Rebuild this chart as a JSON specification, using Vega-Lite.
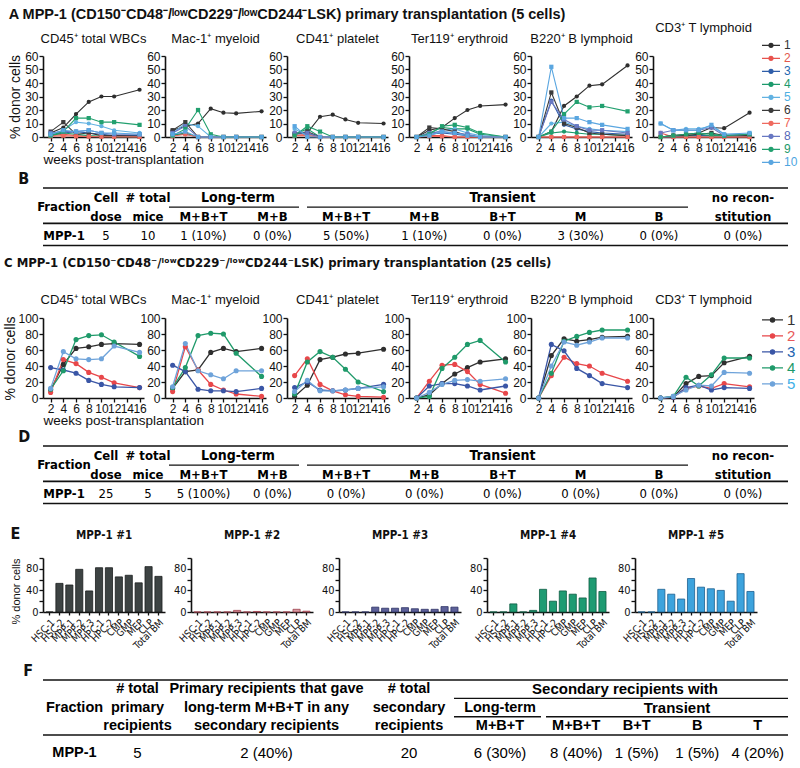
{
"$schema":"https://vega.github.io/schema/vega-lite/v6.json",
"background":"white",
"padding":{"left":3,"top":6,"right":2,"bottom":0},
"spacing":2,
"resolve":{"scale":{"color":"independent"}},
"config":{
 "view":{"stroke":null},
 "font":"Liberation Sans, Arial, Helvetica, sans-serif",
 "axis":{"domainColor":"#111","domainWidth":1.6,"tickColor":"#111","tickWidth":1.3,"tickSize":4,"labelColor":"#111","labelFont":"Liberation Sans, Arial, sans-serif","labelFontSize":12,"titleFont":"Liberation Sans, Arial, sans-serif","titleFontWeight":"normal","titleFontSize":14,"titleColor":"#111","grid":false,"labelPadding":1},
 "title":{"font":"Liberation Sans, Arial, sans-serif","fontWeight":"normal","fontSize":13,"color":"#111"},
 "legend":{"labelFont":"Liberation Sans, Arial, sans-serif"},
 "style":{
  "tb":{"font":"Liberation Sans Narrow, Arial Narrow, DejaVu Sans Condensed, sans-serif","fontWeight":"bold","fontSize":13,"baseline":"middle","fill":"#111"},
  "tg":{"font":"Liberation Sans Narrow, Arial Narrow, DejaVu Sans Condensed, sans-serif","fontWeight":"bold","fontSize":14,"baseline":"middle","fill":"#111"},
  "tv":{"font":"Liberation Sans Narrow, Arial Narrow, DejaVu Sans Condensed, sans-serif","fontSize":13,"baseline":"middle","fill":"#111"},
  "fb":{"font":"Liberation Sans, Arial, sans-serif","fontWeight":"bold","fontSize":14.5,"baseline":"middle","fill":"#111"},
  "fv":{"font":"Liberation Sans, Arial, sans-serif","fontSize":15,"baseline":"middle","fill":"#111"}
 }
},
"datasets":{
"lineA":[
{"p":"wbc","m":"1","w":2,"v":3},{"p":"wbc","m":"1","w":4,"v":7},{"p":"wbc","m":"1","w":6,"v":17},{"p":"wbc","m":"1","w":8,"v":26},{"p":"wbc","m":"1","w":10,"v":30},{"p":"wbc","m":"1","w":12,"v":30},{"p":"wbc","m":"1","w":16,"v":35},
{"p":"wbc","m":"2","w":2,"v":1},{"p":"wbc","m":"2","w":4,"v":2},{"p":"wbc","m":"2","w":6,"v":1},{"p":"wbc","m":"2","w":8,"v":0.5},{"p":"wbc","m":"2","w":10,"v":0.3},{"p":"wbc","m":"2","w":12,"v":0.2},{"p":"wbc","m":"2","w":16,"v":0.2},
{"p":"wbc","m":"3","w":2,"v":2},{"p":"wbc","m":"3","w":4,"v":3},{"p":"wbc","m":"3","w":6,"v":4},{"p":"wbc","m":"3","w":8,"v":3},{"p":"wbc","m":"3","w":10,"v":2},{"p":"wbc","m":"3","w":12,"v":1},{"p":"wbc","m":"3","w":16,"v":1},
{"p":"wbc","m":"4","w":2,"v":1},{"p":"wbc","m":"4","w":4,"v":3},{"p":"wbc","m":"4","w":6,"v":2},{"p":"wbc","m":"4","w":8,"v":1},{"p":"wbc","m":"4","w":10,"v":0.5},{"p":"wbc","m":"4","w":12,"v":0.3},{"p":"wbc","m":"4","w":16,"v":0.2},
{"p":"wbc","m":"5","w":2,"v":2},{"p":"wbc","m":"5","w":4,"v":5},{"p":"wbc","m":"5","w":6,"v":11},{"p":"wbc","m":"5","w":8,"v":10},{"p":"wbc","m":"5","w":10,"v":8},{"p":"wbc","m":"5","w":12,"v":5},{"p":"wbc","m":"5","w":16,"v":3},
{"p":"wbc","m":"6","w":2,"v":4},{"p":"wbc","m":"6","w":4,"v":11},{"p":"wbc","m":"6","w":6,"v":2},{"p":"wbc","m":"6","w":8,"v":3},{"p":"wbc","m":"6","w":10,"v":1},{"p":"wbc","m":"6","w":12,"v":1},{"p":"wbc","m":"6","w":16,"v":0.5},
{"p":"wbc","m":"7","w":2,"v":0.5},{"p":"wbc","m":"7","w":4,"v":1},{"p":"wbc","m":"7","w":6,"v":0.5},{"p":"wbc","m":"7","w":8,"v":0.3},{"p":"wbc","m":"7","w":10,"v":0.2},{"p":"wbc","m":"7","w":12,"v":0.2},{"p":"wbc","m":"7","w":16,"v":0.1},
{"p":"wbc","m":"8","w":2,"v":3},{"p":"wbc","m":"8","w":4,"v":4},{"p":"wbc","m":"8","w":6,"v":4},{"p":"wbc","m":"8","w":8,"v":5},{"p":"wbc","m":"8","w":10,"v":3},{"p":"wbc","m":"8","w":12,"v":2},{"p":"wbc","m":"8","w":16,"v":2},
{"p":"wbc","m":"9","w":2,"v":1},{"p":"wbc","m":"9","w":4,"v":4},{"p":"wbc","m":"9","w":6,"v":14},{"p":"wbc","m":"9","w":8,"v":14},{"p":"wbc","m":"9","w":10,"v":11},{"p":"wbc","m":"9","w":12,"v":11},{"p":"wbc","m":"9","w":16,"v":9},
{"p":"wbc","m":"10","w":2,"v":2},{"p":"wbc","m":"10","w":4,"v":5},{"p":"wbc","m":"10","w":6,"v":4},{"p":"wbc","m":"10","w":8,"v":5},{"p":"wbc","m":"10","w":10,"v":3},{"p":"wbc","m":"10","w":12,"v":3},{"p":"wbc","m":"10","w":16,"v":2},
{"p":"mac","m":"1","w":2,"v":5},{"p":"mac","m":"1","w":4,"v":8},{"p":"mac","m":"1","w":6,"v":10},{"p":"mac","m":"1","w":8,"v":21},{"p":"mac","m":"1","w":10,"v":18},{"p":"mac","m":"1","w":12,"v":17.5},{"p":"mac","m":"1","w":16,"v":19},
{"p":"mac","m":"2","w":2,"v":1},{"p":"mac","m":"2","w":4,"v":3},{"p":"mac","m":"2","w":6,"v":0},{"p":"mac","m":"2","w":8,"v":0},{"p":"mac","m":"2","w":10,"v":0},{"p":"mac","m":"2","w":12,"v":0},{"p":"mac","m":"2","w":16,"v":0},
{"p":"mac","m":"3","w":2,"v":2},{"p":"mac","m":"3","w":4,"v":2},{"p":"mac","m":"3","w":6,"v":0},{"p":"mac","m":"3","w":8,"v":0},{"p":"mac","m":"3","w":10,"v":0},{"p":"mac","m":"3","w":12,"v":0},{"p":"mac","m":"3","w":16,"v":0},
{"p":"mac","m":"4","w":2,"v":1},{"p":"mac","m":"4","w":4,"v":3},{"p":"mac","m":"4","w":6,"v":0},{"p":"mac","m":"4","w":8,"v":0},{"p":"mac","m":"4","w":10,"v":0},{"p":"mac","m":"4","w":12,"v":0},{"p":"mac","m":"4","w":16,"v":0},
{"p":"mac","m":"5","w":2,"v":3},{"p":"mac","m":"5","w":4,"v":10},{"p":"mac","m":"5","w":6,"v":8},{"p":"mac","m":"5","w":8,"v":0},{"p":"mac","m":"5","w":10,"v":0},{"p":"mac","m":"5","w":12,"v":0},{"p":"mac","m":"5","w":16,"v":0},
{"p":"mac","m":"6","w":2,"v":5},{"p":"mac","m":"6","w":4,"v":11},{"p":"mac","m":"6","w":6,"v":0},{"p":"mac","m":"6","w":8,"v":0},{"p":"mac","m":"6","w":10,"v":0},{"p":"mac","m":"6","w":12,"v":0},{"p":"mac","m":"6","w":16,"v":0},
{"p":"mac","m":"7","w":2,"v":0.5},{"p":"mac","m":"7","w":4,"v":2},{"p":"mac","m":"7","w":6,"v":0},{"p":"mac","m":"7","w":8,"v":0},{"p":"mac","m":"7","w":10,"v":0},{"p":"mac","m":"7","w":12,"v":0},{"p":"mac","m":"7","w":16,"v":0},
{"p":"mac","m":"8","w":2,"v":3},{"p":"mac","m":"8","w":4,"v":8},{"p":"mac","m":"8","w":6,"v":0},{"p":"mac","m":"8","w":8,"v":0},{"p":"mac","m":"8","w":10,"v":0},{"p":"mac","m":"8","w":12,"v":0},{"p":"mac","m":"8","w":16,"v":0},
{"p":"mac","m":"9","w":2,"v":1},{"p":"mac","m":"9","w":4,"v":6},{"p":"mac","m":"9","w":6,"v":20},{"p":"mac","m":"9","w":8,"v":2},{"p":"mac","m":"9","w":10,"v":0},{"p":"mac","m":"9","w":12,"v":0},{"p":"mac","m":"9","w":16,"v":0},
{"p":"mac","m":"10","w":2,"v":2},{"p":"mac","m":"10","w":4,"v":4},{"p":"mac","m":"10","w":6,"v":0},{"p":"mac","m":"10","w":8,"v":0},{"p":"mac","m":"10","w":10,"v":0},{"p":"mac","m":"10","w":12,"v":0},{"p":"mac","m":"10","w":16,"v":0},
{"p":"plt","m":"1","w":2,"v":3},{"p":"plt","m":"1","w":4,"v":3},{"p":"plt","m":"1","w":6,"v":15},{"p":"plt","m":"1","w":8,"v":16.5},{"p":"plt","m":"1","w":10,"v":13},{"p":"plt","m":"1","w":12,"v":10.5},{"p":"plt","m":"1","w":16,"v":10},
{"p":"plt","m":"2","w":2,"v":1},{"p":"plt","m":"2","w":4,"v":2},{"p":"plt","m":"2","w":6,"v":0},{"p":"plt","m":"2","w":8,"v":0},{"p":"plt","m":"2","w":10,"v":0},{"p":"plt","m":"2","w":12,"v":0},{"p":"plt","m":"2","w":16,"v":0},
{"p":"plt","m":"3","w":2,"v":2},{"p":"plt","m":"3","w":4,"v":3},{"p":"plt","m":"3","w":6,"v":0},{"p":"plt","m":"3","w":8,"v":0},{"p":"plt","m":"3","w":10,"v":0},{"p":"plt","m":"3","w":12,"v":0},{"p":"plt","m":"3","w":16,"v":0},
{"p":"plt","m":"4","w":2,"v":2},{"p":"plt","m":"4","w":4,"v":6},{"p":"plt","m":"4","w":6,"v":0},{"p":"plt","m":"4","w":8,"v":0},{"p":"plt","m":"4","w":10,"v":0},{"p":"plt","m":"4","w":12,"v":0},{"p":"plt","m":"4","w":16,"v":0},
{"p":"plt","m":"5","w":2,"v":6},{"p":"plt","m":"5","w":4,"v":1},{"p":"plt","m":"5","w":6,"v":0},{"p":"plt","m":"5","w":8,"v":0},{"p":"plt","m":"5","w":10,"v":0},{"p":"plt","m":"5","w":12,"v":0},{"p":"plt","m":"5","w":16,"v":0},
{"p":"plt","m":"6","w":2,"v":2},{"p":"plt","m":"6","w":4,"v":4},{"p":"plt","m":"6","w":6,"v":0},{"p":"plt","m":"6","w":8,"v":0},{"p":"plt","m":"6","w":10,"v":0},{"p":"plt","m":"6","w":12,"v":0},{"p":"plt","m":"6","w":16,"v":0},
{"p":"plt","m":"7","w":2,"v":1},{"p":"plt","m":"7","w":4,"v":1},{"p":"plt","m":"7","w":6,"v":0},{"p":"plt","m":"7","w":8,"v":0},{"p":"plt","m":"7","w":10,"v":0},{"p":"plt","m":"7","w":12,"v":0},{"p":"plt","m":"7","w":16,"v":0},
{"p":"plt","m":"8","w":2,"v":3},{"p":"plt","m":"8","w":4,"v":3},{"p":"plt","m":"8","w":6,"v":0},{"p":"plt","m":"8","w":8,"v":0},{"p":"plt","m":"8","w":10,"v":0},{"p":"plt","m":"8","w":12,"v":0},{"p":"plt","m":"8","w":16,"v":0},
{"p":"plt","m":"9","w":2,"v":1},{"p":"plt","m":"9","w":4,"v":8},{"p":"plt","m":"9","w":6,"v":4},{"p":"plt","m":"9","w":8,"v":0},{"p":"plt","m":"9","w":10,"v":0},{"p":"plt","m":"9","w":12,"v":0},{"p":"plt","m":"9","w":16,"v":0},
{"p":"plt","m":"10","w":2,"v":8},{"p":"plt","m":"10","w":4,"v":0},{"p":"plt","m":"10","w":6,"v":0},{"p":"plt","m":"10","w":8,"v":0},{"p":"plt","m":"10","w":10,"v":0},{"p":"plt","m":"10","w":12,"v":0},{"p":"plt","m":"10","w":16,"v":0},
{"p":"ery","m":"1","w":2,"v":0},{"p":"ery","m":"1","w":4,"v":5},{"p":"ery","m":"1","w":6,"v":7},{"p":"ery","m":"1","w":8,"v":14},{"p":"ery","m":"1","w":10,"v":20},{"p":"ery","m":"1","w":12,"v":23},{"p":"ery","m":"1","w":16,"v":24},
{"p":"ery","m":"2","w":2,"v":0},{"p":"ery","m":"2","w":4,"v":1},{"p":"ery","m":"2","w":6,"v":1},{"p":"ery","m":"2","w":8,"v":0},{"p":"ery","m":"2","w":10,"v":0},{"p":"ery","m":"2","w":12,"v":0},{"p":"ery","m":"2","w":16,"v":0},
{"p":"ery","m":"3","w":2,"v":0},{"p":"ery","m":"3","w":4,"v":2},{"p":"ery","m":"3","w":6,"v":3},{"p":"ery","m":"3","w":8,"v":2},{"p":"ery","m":"3","w":10,"v":1},{"p":"ery","m":"3","w":12,"v":0},{"p":"ery","m":"3","w":16,"v":0},
{"p":"ery","m":"4","w":2,"v":0},{"p":"ery","m":"4","w":4,"v":3},{"p":"ery","m":"4","w":6,"v":7},{"p":"ery","m":"4","w":8,"v":6},{"p":"ery","m":"4","w":10,"v":6},{"p":"ery","m":"4","w":12,"v":2},{"p":"ery","m":"4","w":16,"v":0},
{"p":"ery","m":"5","w":2,"v":0},{"p":"ery","m":"5","w":4,"v":2},{"p":"ery","m":"5","w":6,"v":5},{"p":"ery","m":"5","w":8,"v":6},{"p":"ery","m":"5","w":10,"v":3},{"p":"ery","m":"5","w":12,"v":1},{"p":"ery","m":"5","w":16,"v":0},
{"p":"ery","m":"6","w":2,"v":0},{"p":"ery","m":"6","w":4,"v":7},{"p":"ery","m":"6","w":6,"v":6},{"p":"ery","m":"6","w":8,"v":4},{"p":"ery","m":"6","w":10,"v":1},{"p":"ery","m":"6","w":12,"v":0},{"p":"ery","m":"6","w":16,"v":0},
{"p":"ery","m":"7","w":2,"v":0},{"p":"ery","m":"7","w":4,"v":0.5},{"p":"ery","m":"7","w":6,"v":0.5},{"p":"ery","m":"7","w":8,"v":0},{"p":"ery","m":"7","w":10,"v":0},{"p":"ery","m":"7","w":12,"v":0},{"p":"ery","m":"7","w":16,"v":0},
{"p":"ery","m":"8","w":2,"v":0},{"p":"ery","m":"8","w":4,"v":3},{"p":"ery","m":"8","w":6,"v":4},{"p":"ery","m":"8","w":8,"v":3},{"p":"ery","m":"8","w":10,"v":2},{"p":"ery","m":"8","w":12,"v":0},{"p":"ery","m":"8","w":16,"v":0},
{"p":"ery","m":"9","w":2,"v":0},{"p":"ery","m":"9","w":4,"v":2},{"p":"ery","m":"9","w":6,"v":8},{"p":"ery","m":"9","w":8,"v":9},{"p":"ery","m":"9","w":10,"v":7},{"p":"ery","m":"9","w":12,"v":3},{"p":"ery","m":"9","w":16,"v":0},
{"p":"ery","m":"10","w":2,"v":0},{"p":"ery","m":"10","w":4,"v":1},{"p":"ery","m":"10","w":6,"v":4},{"p":"ery","m":"10","w":8,"v":3},{"p":"ery","m":"10","w":10,"v":1},{"p":"ery","m":"10","w":12,"v":0},{"p":"ery","m":"10","w":16,"v":0},
{"p":"b","m":"1","w":2,"v":0},{"p":"b","m":"1","w":4,"v":4},{"p":"b","m":"1","w":6,"v":23},{"p":"b","m":"1","w":8,"v":30},{"p":"b","m":"1","w":10,"v":38},{"p":"b","m":"1","w":12,"v":39},{"p":"b","m":"1","w":16,"v":53},
{"p":"b","m":"2","w":2,"v":0},{"p":"b","m":"2","w":4,"v":0},{"p":"b","m":"2","w":6,"v":0},{"p":"b","m":"2","w":8,"v":0},{"p":"b","m":"2","w":10,"v":0},{"p":"b","m":"2","w":12,"v":0},{"p":"b","m":"2","w":16,"v":0},
{"p":"b","m":"3","w":2,"v":0},{"p":"b","m":"3","w":4,"v":27},{"p":"b","m":"3","w":6,"v":9},{"p":"b","m":"3","w":8,"v":6},{"p":"b","m":"3","w":10,"v":4},{"p":"b","m":"3","w":12,"v":3},{"p":"b","m":"3","w":16,"v":2},
{"p":"b","m":"4","w":2,"v":0},{"p":"b","m":"4","w":4,"v":3},{"p":"b","m":"4","w":6,"v":4},{"p":"b","m":"4","w":8,"v":3},{"p":"b","m":"4","w":10,"v":2},{"p":"b","m":"4","w":12,"v":2},{"p":"b","m":"4","w":16,"v":1},
{"p":"b","m":"5","w":2,"v":0},{"p":"b","m":"5","w":4,"v":10},{"p":"b","m":"5","w":6,"v":11},{"p":"b","m":"5","w":8,"v":8},{"p":"b","m":"5","w":10,"v":6},{"p":"b","m":"5","w":12,"v":5},{"p":"b","m":"5","w":16,"v":4},
{"p":"b","m":"6","w":2,"v":0},{"p":"b","m":"6","w":4,"v":33},{"p":"b","m":"6","w":6,"v":10},{"p":"b","m":"6","w":8,"v":7},{"p":"b","m":"6","w":10,"v":3},{"p":"b","m":"6","w":12,"v":2},{"p":"b","m":"6","w":16,"v":1},
{"p":"b","m":"7","w":2,"v":0},{"p":"b","m":"7","w":4,"v":0},{"p":"b","m":"7","w":6,"v":0},{"p":"b","m":"7","w":8,"v":0},{"p":"b","m":"7","w":10,"v":0},{"p":"b","m":"7","w":12,"v":0},{"p":"b","m":"7","w":16,"v":0},
{"p":"b","m":"8","w":2,"v":0},{"p":"b","m":"8","w":4,"v":26},{"p":"b","m":"8","w":6,"v":13},{"p":"b","m":"8","w":8,"v":8},{"p":"b","m":"8","w":10,"v":5},{"p":"b","m":"8","w":12,"v":5},{"p":"b","m":"8","w":16,"v":3},
{"p":"b","m":"9","w":2,"v":0},{"p":"b","m":"9","w":4,"v":4},{"p":"b","m":"9","w":6,"v":17},{"p":"b","m":"9","w":8,"v":26},{"p":"b","m":"9","w":10,"v":22},{"p":"b","m":"9","w":12,"v":23},{"p":"b","m":"9","w":16,"v":19},
{"p":"b","m":"10","w":2,"v":0},{"p":"b","m":"10","w":4,"v":52},{"p":"b","m":"10","w":6,"v":14},{"p":"b","m":"10","w":8,"v":14},{"p":"b","m":"10","w":10,"v":11},{"p":"b","m":"10","w":12,"v":9},{"p":"b","m":"10","w":16,"v":6},
{"p":"t","m":"1","w":2,"v":0},{"p":"t","m":"1","w":4,"v":1},{"p":"t","m":"1","w":6,"v":2},{"p":"t","m":"1","w":8,"v":3},{"p":"t","m":"1","w":10,"v":7},{"p":"t","m":"1","w":12,"v":6.5},{"p":"t","m":"1","w":16,"v":18},
{"p":"t","m":"2","w":2,"v":3},{"p":"t","m":"2","w":4,"v":0},{"p":"t","m":"2","w":6,"v":0},{"p":"t","m":"2","w":8,"v":0},{"p":"t","m":"2","w":10,"v":0},{"p":"t","m":"2","w":12,"v":0},{"p":"t","m":"2","w":16,"v":0},
{"p":"t","m":"3","w":2,"v":0},{"p":"t","m":"3","w":4,"v":0},{"p":"t","m":"3","w":6,"v":1},{"p":"t","m":"3","w":8,"v":1},{"p":"t","m":"3","w":10,"v":1},{"p":"t","m":"3","w":12,"v":1},{"p":"t","m":"3","w":16,"v":1},
{"p":"t","m":"4","w":2,"v":0},{"p":"t","m":"4","w":4,"v":1},{"p":"t","m":"4","w":6,"v":1},{"p":"t","m":"4","w":8,"v":2},{"p":"t","m":"4","w":10,"v":1},{"p":"t","m":"4","w":12,"v":1},{"p":"t","m":"4","w":16,"v":1},
{"p":"t","m":"5","w":2,"v":10},{"p":"t","m":"5","w":4,"v":5},{"p":"t","m":"5","w":6,"v":6},{"p":"t","m":"5","w":8,"v":6},{"p":"t","m":"5","w":10,"v":8},{"p":"t","m":"5","w":12,"v":2},{"p":"t","m":"5","w":16,"v":2},
{"p":"t","m":"6","w":2,"v":0},{"p":"t","m":"6","w":4,"v":1},{"p":"t","m":"6","w":6,"v":1},{"p":"t","m":"6","w":8,"v":2},{"p":"t","m":"6","w":10,"v":3},{"p":"t","m":"6","w":12,"v":1},{"p":"t","m":"6","w":16,"v":1},
{"p":"t","m":"7","w":2,"v":0},{"p":"t","m":"7","w":4,"v":0},{"p":"t","m":"7","w":6,"v":0},{"p":"t","m":"7","w":8,"v":0},{"p":"t","m":"7","w":10,"v":0},{"p":"t","m":"7","w":12,"v":0},{"p":"t","m":"7","w":16,"v":0},
{"p":"t","m":"8","w":2,"v":3},{"p":"t","m":"8","w":4,"v":5},{"p":"t","m":"8","w":6,"v":5},{"p":"t","m":"8","w":8,"v":5},{"p":"t","m":"8","w":10,"v":7},{"p":"t","m":"8","w":12,"v":1},{"p":"t","m":"8","w":16,"v":2},
{"p":"t","m":"9","w":2,"v":0},{"p":"t","m":"9","w":4,"v":1},{"p":"t","m":"9","w":6,"v":2},{"p":"t","m":"9","w":8,"v":3},{"p":"t","m":"9","w":10,"v":2},{"p":"t","m":"9","w":12,"v":1},{"p":"t","m":"9","w":16,"v":2},
{"p":"t","m":"10","w":2,"v":10},{"p":"t","m":"10","w":4,"v":5},{"p":"t","m":"10","w":6,"v":5},{"p":"t","m":"10","w":8,"v":5},{"p":"t","m":"10","w":10,"v":9},{"p":"t","m":"10","w":12,"v":2},{"p":"t","m":"10","w":16,"v":3}
],
"lineC":[
{"p":"wbc","m":"1","w":2,"v":10},{"p":"wbc","m":"1","w":4,"v":42},{"p":"wbc","m":"1","w":6,"v":62},{"p":"wbc","m":"1","w":8,"v":64},{"p":"wbc","m":"1","w":10,"v":67},{"p":"wbc","m":"1","w":12,"v":68},{"p":"wbc","m":"1","w":16,"v":67},
{"p":"wbc","m":"2","w":2,"v":7},{"p":"wbc","m":"2","w":4,"v":48},{"p":"wbc","m":"2","w":6,"v":43},{"p":"wbc","m":"2","w":8,"v":32},{"p":"wbc","m":"2","w":10,"v":26},{"p":"wbc","m":"2","w":12,"v":19},{"p":"wbc","m":"2","w":16,"v":13},
{"p":"wbc","m":"3","w":2,"v":38},{"p":"wbc","m":"3","w":4,"v":35},{"p":"wbc","m":"3","w":6,"v":31},{"p":"wbc","m":"3","w":8,"v":22},{"p":"wbc","m":"3","w":10,"v":17},{"p":"wbc","m":"3","w":12,"v":14},{"p":"wbc","m":"3","w":16,"v":13},
{"p":"wbc","m":"4","w":2,"v":11},{"p":"wbc","m":"4","w":4,"v":34},{"p":"wbc","m":"4","w":6,"v":73},{"p":"wbc","m":"4","w":8,"v":78},{"p":"wbc","m":"4","w":10,"v":79},{"p":"wbc","m":"4","w":12,"v":70},{"p":"wbc","m":"4","w":16,"v":52},
{"p":"wbc","m":"5","w":2,"v":12},{"p":"wbc","m":"5","w":4,"v":58},{"p":"wbc","m":"5","w":6,"v":49},{"p":"wbc","m":"5","w":8,"v":48},{"p":"wbc","m":"5","w":10,"v":49},{"p":"wbc","m":"5","w":12,"v":65},{"p":"wbc","m":"5","w":16,"v":57},
{"p":"mac","m":"1","w":2,"v":12},{"p":"mac","m":"1","w":4,"v":33},{"p":"mac","m":"1","w":6,"v":35},{"p":"mac","m":"1","w":8,"v":57},{"p":"mac","m":"1","w":10,"v":62},{"p":"mac","m":"1","w":12,"v":58},{"p":"mac","m":"1","w":16,"v":62},
{"p":"mac","m":"2","w":2,"v":8},{"p":"mac","m":"2","w":4,"v":64},{"p":"mac","m":"2","w":6,"v":35},{"p":"mac","m":"2","w":8,"v":17},{"p":"mac","m":"2","w":10,"v":10},{"p":"mac","m":"2","w":12,"v":5},{"p":"mac","m":"2","w":16,"v":2},
{"p":"mac","m":"3","w":2,"v":41},{"p":"mac","m":"3","w":4,"v":33},{"p":"mac","m":"3","w":6,"v":11},{"p":"mac","m":"3","w":8,"v":9},{"p":"mac","m":"3","w":10,"v":9},{"p":"mac","m":"3","w":12,"v":8},{"p":"mac","m":"3","w":16,"v":12},
{"p":"mac","m":"4","w":2,"v":13},{"p":"mac","m":"4","w":4,"v":38},{"p":"mac","m":"4","w":6,"v":78},{"p":"mac","m":"4","w":8,"v":81},{"p":"mac","m":"4","w":10,"v":80},{"p":"mac","m":"4","w":12,"v":56},{"p":"mac","m":"4","w":16,"v":27},
{"p":"mac","m":"5","w":2,"v":14},{"p":"mac","m":"5","w":4,"v":68},{"p":"mac","m":"5","w":6,"v":34},{"p":"mac","m":"5","w":8,"v":29},{"p":"mac","m":"5","w":10,"v":24},{"p":"mac","m":"5","w":12,"v":34},{"p":"mac","m":"5","w":16,"v":34},
{"p":"plt","m":"1","w":2,"v":2},{"p":"plt","m":"1","w":4,"v":16},{"p":"plt","m":"1","w":6,"v":48},{"p":"plt","m":"1","w":8,"v":51},{"p":"plt","m":"1","w":10,"v":55},{"p":"plt","m":"1","w":12,"v":56},{"p":"plt","m":"1","w":16,"v":61},
{"p":"plt","m":"2","w":2,"v":28},{"p":"plt","m":"2","w":4,"v":49},{"p":"plt","m":"2","w":6,"v":17},{"p":"plt","m":"2","w":8,"v":9},{"p":"plt","m":"2","w":10,"v":4},{"p":"plt","m":"2","w":12,"v":2},{"p":"plt","m":"2","w":16,"v":1},
{"p":"plt","m":"3","w":2,"v":13},{"p":"plt","m":"3","w":4,"v":20},{"p":"plt","m":"3","w":6,"v":10},{"p":"plt","m":"3","w":8,"v":9},{"p":"plt","m":"3","w":10,"v":10},{"p":"plt","m":"3","w":12,"v":12},{"p":"plt","m":"3","w":16,"v":17},
{"p":"plt","m":"4","w":2,"v":5},{"p":"plt","m":"4","w":4,"v":45},{"p":"plt","m":"4","w":6,"v":58},{"p":"plt","m":"4","w":8,"v":51},{"p":"plt","m":"4","w":10,"v":36},{"p":"plt","m":"4","w":12,"v":20},{"p":"plt","m":"4","w":16,"v":8},
{"p":"plt","m":"5","w":2,"v":8},{"p":"plt","m":"5","w":4,"v":22},{"p":"plt","m":"5","w":6,"v":9},{"p":"plt","m":"5","w":8,"v":9},{"p":"plt","m":"5","w":10,"v":10},{"p":"plt","m":"5","w":12,"v":12},{"p":"plt","m":"5","w":16,"v":14},
{"p":"ery","m":"1","w":2,"v":0},{"p":"ery","m":"1","w":4,"v":4},{"p":"ery","m":"1","w":6,"v":18},{"p":"ery","m":"1","w":8,"v":30},{"p":"ery","m":"1","w":10,"v":38},{"p":"ery","m":"1","w":12,"v":45},{"p":"ery","m":"1","w":16,"v":49},
{"p":"ery","m":"2","w":2,"v":0},{"p":"ery","m":"2","w":4,"v":21},{"p":"ery","m":"2","w":6,"v":41},{"p":"ery","m":"2","w":8,"v":42},{"p":"ery","m":"2","w":10,"v":33},{"p":"ery","m":"2","w":12,"v":17},{"p":"ery","m":"2","w":16,"v":6},
{"p":"ery","m":"3","w":2,"v":0},{"p":"ery","m":"3","w":4,"v":15},{"p":"ery","m":"3","w":6,"v":18},{"p":"ery","m":"3","w":8,"v":18},{"p":"ery","m":"3","w":10,"v":15},{"p":"ery","m":"3","w":12,"v":10},{"p":"ery","m":"3","w":16,"v":15},
{"p":"ery","m":"4","w":2,"v":0},{"p":"ery","m":"4","w":4,"v":2},{"p":"ery","m":"4","w":6,"v":37},{"p":"ery","m":"4","w":8,"v":51},{"p":"ery","m":"4","w":10,"v":67},{"p":"ery","m":"4","w":12,"v":72},{"p":"ery","m":"4","w":16,"v":45},
{"p":"ery","m":"5","w":2,"v":0},{"p":"ery","m":"5","w":4,"v":7},{"p":"ery","m":"5","w":6,"v":17},{"p":"ery","m":"5","w":8,"v":22},{"p":"ery","m":"5","w":10,"v":23},{"p":"ery","m":"5","w":12,"v":21},{"p":"ery","m":"5","w":16,"v":24},
{"p":"b","m":"1","w":2,"v":0},{"p":"b","m":"1","w":4,"v":53},{"p":"b","m":"1","w":6,"v":74},{"p":"b","m":"1","w":8,"v":71},{"p":"b","m":"1","w":10,"v":73},{"p":"b","m":"1","w":12,"v":76},{"p":"b","m":"1","w":16,"v":77},
{"p":"b","m":"2","w":2,"v":0},{"p":"b","m":"2","w":4,"v":28},{"p":"b","m":"2","w":6,"v":51},{"p":"b","m":"2","w":8,"v":43},{"p":"b","m":"2","w":10,"v":40},{"p":"b","m":"2","w":12,"v":31},{"p":"b","m":"2","w":16,"v":21},
{"p":"b","m":"3","w":2,"v":0},{"p":"b","m":"3","w":4,"v":67},{"p":"b","m":"3","w":6,"v":59},{"p":"b","m":"3","w":8,"v":37},{"p":"b","m":"3","w":10,"v":28},{"p":"b","m":"3","w":12,"v":18},{"p":"b","m":"3","w":16,"v":13},
{"p":"b","m":"4","w":2,"v":0},{"p":"b","m":"4","w":4,"v":31},{"p":"b","m":"4","w":6,"v":71},{"p":"b","m":"4","w":8,"v":77},{"p":"b","m":"4","w":10,"v":82},{"p":"b","m":"4","w":12,"v":85},{"p":"b","m":"4","w":16,"v":85},
{"p":"b","m":"5","w":2,"v":0},{"p":"b","m":"5","w":4,"v":40},{"p":"b","m":"5","w":6,"v":70},{"p":"b","m":"5","w":8,"v":66},{"p":"b","m":"5","w":10,"v":70},{"p":"b","m":"5","w":12,"v":75},{"p":"b","m":"5","w":16,"v":75},
{"p":"t","m":"1","w":2,"v":0},{"p":"t","m":"1","w":4,"v":1},{"p":"t","m":"1","w":6,"v":18},{"p":"t","m":"1","w":8,"v":27},{"p":"t","m":"1","w":10,"v":28},{"p":"t","m":"1","w":12,"v":44},{"p":"t","m":"1","w":16,"v":52},
{"p":"t","m":"2","w":2,"v":0},{"p":"t","m":"2","w":4,"v":1},{"p":"t","m":"2","w":6,"v":12},{"p":"t","m":"2","w":8,"v":15},{"p":"t","m":"2","w":10,"v":12},{"p":"t","m":"2","w":12,"v":18},{"p":"t","m":"2","w":16,"v":14},
{"p":"t","m":"3","w":2,"v":0},{"p":"t","m":"3","w":4,"v":1},{"p":"t","m":"3","w":6,"v":13},{"p":"t","m":"3","w":8,"v":16},{"p":"t","m":"3","w":10,"v":10},{"p":"t","m":"3","w":12,"v":13},{"p":"t","m":"3","w":16,"v":12},
{"p":"t","m":"4","w":2,"v":0},{"p":"t","m":"4","w":4,"v":2},{"p":"t","m":"4","w":6,"v":26},{"p":"t","m":"4","w":8,"v":15},{"p":"t","m":"4","w":10,"v":29},{"p":"t","m":"4","w":12,"v":50},{"p":"t","m":"4","w":16,"v":50},
{"p":"t","m":"5","w":2,"v":0},{"p":"t","m":"5","w":4,"v":2},{"p":"t","m":"5","w":6,"v":10},{"p":"t","m":"5","w":8,"v":16},{"p":"t","m":"5","w":10,"v":15},{"p":"t","m":"5","w":12,"v":32},{"p":"t","m":"5","w":16,"v":31}
],
"bars":[
{"mo":"1","c":"HSC-1","v":0},{"mo":"1","c":"HSC-2","v":53},{"mo":"1","c":"MPP-1","v":50},{"mo":"1","c":"MPP-2","v":79},{"mo":"1","c":"MPP-3","v":39},{"mo":"1","c":"HPC-1","v":82},{"mo":"1","c":"HPC-2","v":82},{"mo":"1","c":"CMP","v":65},{"mo":"1","c":"GMP","v":68},{"mo":"1","c":"MEP","v":54},{"mo":"1","c":"CLP","v":84},{"mo":"1","c":"Total BM","v":66},
{"mo":"2","c":"HSC-1","v":0},{"mo":"2","c":"HSC-2","v":0},{"mo":"2","c":"MPP-1","v":0},{"mo":"2","c":"MPP-2","v":0},{"mo":"2","c":"MPP-3","v":3},{"mo":"2","c":"HPC-1","v":0},{"mo":"2","c":"HPC-2","v":1},{"mo":"2","c":"CMP","v":0},{"mo":"2","c":"GMP","v":0},{"mo":"2","c":"MEP","v":0},{"mo":"2","c":"CLP","v":5},{"mo":"2","c":"Total BM","v":1.5},
{"mo":"3","c":"HSC-1","v":0},{"mo":"3","c":"HSC-2","v":0},{"mo":"3","c":"MPP-1","v":0},{"mo":"3","c":"MPP-2","v":9},{"mo":"3","c":"MPP-3","v":7},{"mo":"3","c":"HPC-1","v":7},{"mo":"3","c":"HPC-2","v":8},{"mo":"3","c":"CMP","v":6},{"mo":"3","c":"GMP","v":5},{"mo":"3","c":"MEP","v":5},{"mo":"3","c":"CLP","v":10},{"mo":"3","c":"Total BM","v":9},
{"mo":"4","c":"HSC-1","v":0},{"mo":"4","c":"HSC-2","v":0},{"mo":"4","c":"MPP-1","v":15},{"mo":"4","c":"MPP-2","v":0},{"mo":"4","c":"MPP-3","v":3},{"mo":"4","c":"HPC-1","v":42},{"mo":"4","c":"HPC-2","v":20},{"mo":"4","c":"CMP","v":39},{"mo":"4","c":"GMP","v":33},{"mo":"4","c":"MEP","v":26},{"mo":"4","c":"CLP","v":63},{"mo":"4","c":"Total BM","v":38},
{"mo":"5","c":"HSC-1","v":0},{"mo":"5","c":"HSC-2","v":0},{"mo":"5","c":"MPP-1","v":42},{"mo":"5","c":"MPP-2","v":33},{"mo":"5","c":"MPP-3","v":24},{"mo":"5","c":"HPC-1","v":62},{"mo":"5","c":"HPC-2","v":46},{"mo":"5","c":"CMP","v":43},{"mo":"5","c":"GMP","v":40},{"mo":"5","c":"MEP","v":20},{"mo":"5","c":"CLP","v":71},{"mo":"5","c":"Total BM","v":38}
],
"tbl":[
{"tb":"B","g":"g1","s":"t","k":"rule"},{"tb":"B","g":"g1","s":"r","k":"hr"},{"tb":"B","g":"g1","s":"b","k":"rule"},
{"tb":"B","g":"g1","c":"frac","s":"u","t":"Fraction","k":"bh"},{"tb":"B","g":"g1","c":"dose","s":"h1","t":"Cell","k":"bh"},{"tb":"B","g":"g1","c":"dose","s":"h2","t":"dose","k":"bh"},{"tb":"B","g":"g1","c":"mice","s":"h1","t":"# total","k":"bh"},{"tb":"B","g":"g1","c":"mice","s":"h2","t":"mice","k":"bh"},
{"tb":"B","g":"g1","c":"frac","s":"d","t":"MPP-1","k":"bh"},{"tb":"B","g":"g1","c":"dose","s":"d","t":"5","k":"v"},{"tb":"B","g":"g1","c":"mice","s":"d","t":"10","k":"v"},
{"tb":"B","g":"g2","s":"t","k":"rule"},{"tb":"B","g":"g2","s":"r","k":"hr"},{"tb":"B","g":"g2","s":"b","k":"rule"},{"tb":"B","g":"g2","s":"u","k":"ul"},
{"tb":"B","g":"g2","s":"h1","t":"Long-term","k":"gh"},{"tb":"B","g":"g2","c":"c1","s":"h2","t":"M+B+T","k":"bh"},{"tb":"B","g":"g2","c":"c2","s":"h2","t":"M+B","k":"bh"},
{"tb":"B","g":"g2","c":"c1","s":"d","t":"1 (10%)","k":"v"},{"tb":"B","g":"g2","c":"c2","s":"d","t":"0 (0%)","k":"v"},
{"tb":"B","g":"g3","s":"t","k":"rule"},{"tb":"B","g":"g3","s":"r","k":"hr"},{"tb":"B","g":"g3","s":"b","k":"rule"},{"tb":"B","g":"g3","s":"u","k":"ul"},
{"tb":"B","g":"g3","s":"h1","t":"Transient","k":"gh"},{"tb":"B","g":"g3","c":"c1","s":"h2","t":"M+B+T","k":"bh"},{"tb":"B","g":"g3","c":"c2","s":"h2","t":"M+B","k":"bh"},{"tb":"B","g":"g3","c":"c3","s":"h2","t":"B+T","k":"bh"},{"tb":"B","g":"g3","c":"c4","s":"h2","t":"M","k":"bh"},{"tb":"B","g":"g3","c":"c5","s":"h2","t":"B","k":"bh"},
{"tb":"B","g":"g3","c":"c1","s":"d","t":"5 (50%)","k":"v"},{"tb":"B","g":"g3","c":"c2","s":"d","t":"1 (10%)","k":"v"},{"tb":"B","g":"g3","c":"c3","s":"d","t":"0 (0%)","k":"v"},{"tb":"B","g":"g3","c":"c4","s":"d","t":"3 (30%)","k":"v"},{"tb":"B","g":"g3","c":"c5","s":"d","t":"0 (0%)","k":"v"},
{"tb":"B","g":"g4","s":"t","k":"rule"},{"tb":"B","g":"g4","s":"r","k":"hr"},{"tb":"B","g":"g4","s":"b","k":"rule"},
{"tb":"B","g":"g4","c":"c1","s":"h1","t":"no recon-","k":"bh"},{"tb":"B","g":"g4","c":"c1","s":"h2","t":"stitution","k":"bh"},{"tb":"B","g":"g4","c":"c1","s":"d","t":"0 (0%)","k":"v"},
{"tb":"D","g":"g1","s":"t","k":"rule"},{"tb":"D","g":"g1","s":"r","k":"hr"},{"tb":"D","g":"g1","s":"b","k":"rule"},
{"tb":"D","g":"g1","c":"frac","s":"u","t":"Fraction","k":"bh"},{"tb":"D","g":"g1","c":"dose","s":"h1","t":"Cell","k":"bh"},{"tb":"D","g":"g1","c":"dose","s":"h2","t":"dose","k":"bh"},{"tb":"D","g":"g1","c":"mice","s":"h1","t":"# total","k":"bh"},{"tb":"D","g":"g1","c":"mice","s":"h2","t":"mice","k":"bh"},
{"tb":"D","g":"g1","c":"frac","s":"d","t":"MPP-1","k":"bh"},{"tb":"D","g":"g1","c":"dose","s":"d","t":"25","k":"v"},{"tb":"D","g":"g1","c":"mice","s":"d","t":"5","k":"v"},
{"tb":"D","g":"g2","s":"t","k":"rule"},{"tb":"D","g":"g2","s":"r","k":"hr"},{"tb":"D","g":"g2","s":"b","k":"rule"},{"tb":"D","g":"g2","s":"u","k":"ul"},
{"tb":"D","g":"g2","s":"h1","t":"Long-term","k":"gh"},{"tb":"D","g":"g2","c":"c1","s":"h2","t":"M+B+T","k":"bh"},{"tb":"D","g":"g2","c":"c2","s":"h2","t":"M+B","k":"bh"},
{"tb":"D","g":"g2","c":"c1","s":"d","t":"5 (100%)","k":"v"},{"tb":"D","g":"g2","c":"c2","s":"d","t":"0 (0%)","k":"v"},
{"tb":"D","g":"g3","s":"t","k":"rule"},{"tb":"D","g":"g3","s":"r","k":"hr"},{"tb":"D","g":"g3","s":"b","k":"rule"},{"tb":"D","g":"g3","s":"u","k":"ul"},
{"tb":"D","g":"g3","s":"h1","t":"Transient","k":"gh"},{"tb":"D","g":"g3","c":"c1","s":"h2","t":"M+B+T","k":"bh"},{"tb":"D","g":"g3","c":"c2","s":"h2","t":"M+B","k":"bh"},{"tb":"D","g":"g3","c":"c3","s":"h2","t":"B+T","k":"bh"},{"tb":"D","g":"g3","c":"c4","s":"h2","t":"M","k":"bh"},{"tb":"D","g":"g3","c":"c5","s":"h2","t":"B","k":"bh"},
{"tb":"D","g":"g3","c":"c1","s":"d","t":"0 (0%)","k":"v"},{"tb":"D","g":"g3","c":"c2","s":"d","t":"0 (0%)","k":"v"},{"tb":"D","g":"g3","c":"c3","s":"d","t":"0 (0%)","k":"v"},{"tb":"D","g":"g3","c":"c4","s":"d","t":"0 (0%)","k":"v"},{"tb":"D","g":"g3","c":"c5","s":"d","t":"0 (0%)","k":"v"},
{"tb":"D","g":"g4","s":"t","k":"rule"},{"tb":"D","g":"g4","s":"r","k":"hr"},{"tb":"D","g":"g4","s":"b","k":"rule"},
{"tb":"D","g":"g4","c":"c1","s":"h1","t":"no recon-","k":"bh"},{"tb":"D","g":"g4","c":"c1","s":"h2","t":"stitution","k":"bh"},{"tb":"D","g":"g4","c":"c1","s":"d","t":"0 (0%)","k":"v"},
{"tb":"F","g":"v1","s":"t","k":"rule"},{"tb":"F","g":"v1","s":"hr","k":"rule"},
{"tb":"F","g":"v1","c":"frac","s":"r2","t":"Fraction","k":"bh"},{"tb":"F","g":"v1","c":"prim","s":"r1","t":"# total","k":"bh"},{"tb":"F","g":"v1","c":"prim","s":"r2","t":"primary","k":"bh"},{"tb":"F","g":"v1","c":"prim","s":"r3","t":"recipients","k":"bh"},
{"tb":"F","g":"v1","c":"frac","s":"d","t":"MPP-1","k":"bh"},{"tb":"F","g":"v1","c":"prim","s":"d","t":"5","k":"v"},
{"tb":"F","g":"v2","s":"t","k":"rule"},{"tb":"F","g":"v2","s":"hr","k":"rule"},
{"tb":"F","g":"v2","c":"c1","s":"r1","t":"Primary recipients that gave","k":"bh"},{"tb":"F","g":"v2","c":"c1","s":"r2","t":"long-term M+B+T in any","k":"bh"},{"tb":"F","g":"v2","c":"c1","s":"r3","t":"secondary recipients","k":"bh"},{"tb":"F","g":"v2","c":"c1","s":"d","t":"2 (40%)","k":"v"},
{"tb":"F","g":"v3","s":"t","k":"rule"},{"tb":"F","g":"v3","s":"hr","k":"rule"},
{"tb":"F","g":"v3","c":"c1","s":"r1","t":"# total","k":"bh"},{"tb":"F","g":"v3","c":"c1","s":"r2","t":"secondary","k":"bh"},{"tb":"F","g":"v3","c":"c1","s":"r3","t":"recipients","k":"bh"},{"tb":"F","g":"v3","c":"c1","s":"d","t":"20","k":"v"},
{"tb":"F","g":"v4","s":"t","k":"rule"},{"tb":"F","g":"v4","s":"hr","k":"rule"},{"tb":"F","g":"v4","s":"u1","k":"ulL"},{"tb":"F","g":"v4","s":"u2","k":"ul"},
{"tb":"F","g":"v4","c":"c1","s":"r2","t":"Long-term","k":"bh"},{"tb":"F","g":"v4","c":"c1","s":"r3","t":"M+B+T","k":"bh"},{"tb":"F","g":"v4","c":"c1","s":"d","t":"6 (30%)","k":"v"},
{"tb":"F","g":"v5","s":"t","k":"rule"},{"tb":"F","g":"v5","s":"hr","k":"rule"},{"tb":"F","g":"v5","s":"u1","k":"ulR"},{"tb":"F","g":"v5","s":"u2","k":"ul"},
{"tb":"F","g":"v5","s":"r1","t":"Secondary recipients with","k":"gh2"},{"tb":"F","g":"v5","s":"r2","t":"Transient","k":"gh"},
{"tb":"F","g":"v5","c":"c1","s":"r3","t":"M+B+T","k":"bh"},{"tb":"F","g":"v5","c":"c2","s":"r3","t":"B+T","k":"bh"},{"tb":"F","g":"v5","c":"c3","s":"r3","t":"B","k":"bh"},{"tb":"F","g":"v5","c":"c4","s":"r3","t":"T","k":"bh"},
{"tb":"F","g":"v5","c":"c1","s":"d","t":"8 (40%)","k":"v"},{"tb":"F","g":"v5","c":"c2","s":"d","t":"1 (5%)","k":"v"},{"tb":"F","g":"v5","c":"c3","s":"d","t":"1 (5%)","k":"v"},{"tb":"F","g":"v5","c":"c4","s":"d","t":"4 (20%)","k":"v"}
]
},
"vconcat":[
 {"bounds":"flush","spacing":21,
  "title":{"text":"A  MPP-1 (CD150⁻CD48⁻/ˡᵒʷCD229⁻/ˡᵒʷCD244⁻LSK) primary transplantation (5 cells)","anchor":"start","fontSize":14.5,"fontWeight":"bold","offset":0},
  "resolve":{"scale":{"color":"independent"}},
  "hconcat":[
   {"width":101,"height":81,"title":{"text":"CD45⁺ total WBCs","offset":4},"data":{"name":"lineA"},"transform":[{"filter":"datum.p=='wbc'"}],
    "encoding":{"x":{"field":"w","type":"quantitative","scale":{"domain":[0.8,16.7],"nice":false,"zero":false},"axis":{"values":[2,4,6,8,10,12,14,16],"labelOverlap":false,"labelFlush":false,"title":"weeks post-transplantation","titleAnchor":"start","titleAlign":"left","titleFontSize":13.5,"titlePadding":-1}},
     "y":{"field":"v","type":"quantitative","scale":{"domain":[0,60],"nice":false},"axis":{"values":[0,10,20,30,40,50,60],"title":"% donor cells","titlePadding":2}},
     "color":{"field":"m","type":"nominal","scale":{"domain":["1","2","3","4","5","6","7","8","9","10"],"range":["#2f2f2f","#e8534e","#2f5ea9","#1c9a6c","#62b2e2","#3b3b3b","#ef6a5f","#6878c2","#22a06f","#5aa6e0"]},"legend":null}},
    "layer":[{"mark":{"type":"line","strokeWidth":1.1}},
     {"transform":[{"filter":{"field":"m","oneOf":["1","2","3","4","5"]}}],"mark":{"type":"point","shape":"circle","filled":true,"size":18,"opacity":1}},
     {"transform":[{"filter":{"field":"m","oneOf":["6","7","8","9","10"]}}],"mark":{"type":"point","shape":"square","filled":true,"size":18,"opacity":1}}]},
   {"width":101,"height":81,"title":{"text":"Mac-1⁺ myeloid","offset":4},"data":{"name":"lineA"},"transform":[{"filter":"datum.p=='mac'"}],
    "encoding":{"x":{"field":"w","type":"quantitative","scale":{"domain":[0.8,16.7],"nice":false,"zero":false},"axis":{"values":[2,4,6,8,10,12,14,16],"labelOverlap":false,"labelFlush":false,"title":null}},
     "y":{"field":"v","type":"quantitative","scale":{"domain":[0,60],"nice":false},"axis":{"values":[0,10,20,30,40,50,60],"title":null}},
     "color":{"field":"m","type":"nominal","scale":{"domain":["1","2","3","4","5","6","7","8","9","10"],"range":["#2f2f2f","#e8534e","#2f5ea9","#1c9a6c","#62b2e2","#3b3b3b","#ef6a5f","#6878c2","#22a06f","#5aa6e0"]},"legend":null}},
    "layer":[{"mark":{"type":"line","strokeWidth":1.1}},
     {"transform":[{"filter":{"field":"m","oneOf":["1","2","3","4","5"]}}],"mark":{"type":"point","shape":"circle","filled":true,"size":18,"opacity":1}},
     {"transform":[{"filter":{"field":"m","oneOf":["6","7","8","9","10"]}}],"mark":{"type":"point","shape":"square","filled":true,"size":18,"opacity":1}}]},
   {"width":101,"height":81,"title":{"text":"CD41⁺ platelet","offset":4},"data":{"name":"lineA"},"transform":[{"filter":"datum.p=='plt'"}],
    "encoding":{"x":{"field":"w","type":"quantitative","scale":{"domain":[0.8,16.7],"nice":false,"zero":false},"axis":{"values":[2,4,6,8,10,12,14,16],"labelOverlap":false,"labelFlush":false,"title":null}},
     "y":{"field":"v","type":"quantitative","scale":{"domain":[0,60],"nice":false},"axis":{"values":[0,10,20,30,40,50,60],"title":null}},
     "color":{"field":"m","type":"nominal","scale":{"domain":["1","2","3","4","5","6","7","8","9","10"],"range":["#2f2f2f","#e8534e","#2f5ea9","#1c9a6c","#62b2e2","#3b3b3b","#ef6a5f","#6878c2","#22a06f","#5aa6e0"]},"legend":null}},
    "layer":[{"mark":{"type":"line","strokeWidth":1.1}},
     {"transform":[{"filter":{"field":"m","oneOf":["1","2","3","4","5"]}}],"mark":{"type":"point","shape":"circle","filled":true,"size":18,"opacity":1}},
     {"transform":[{"filter":{"field":"m","oneOf":["6","7","8","9","10"]}}],"mark":{"type":"point","shape":"square","filled":true,"size":18,"opacity":1}}]},
   {"width":101,"height":81,"title":{"text":"Ter119⁺ erythroid","offset":4},"data":{"name":"lineA"},"transform":[{"filter":"datum.p=='ery'"}],
    "encoding":{"x":{"field":"w","type":"quantitative","scale":{"domain":[0.8,16.7],"nice":false,"zero":false},"axis":{"values":[2,4,6,8,10,12,14,16],"labelOverlap":false,"labelFlush":false,"title":null}},
     "y":{"field":"v","type":"quantitative","scale":{"domain":[0,60],"nice":false},"axis":{"values":[0,10,20,30,40,50,60],"title":null}},
     "color":{"field":"m","type":"nominal","scale":{"domain":["1","2","3","4","5","6","7","8","9","10"],"range":["#2f2f2f","#e8534e","#2f5ea9","#1c9a6c","#62b2e2","#3b3b3b","#ef6a5f","#6878c2","#22a06f","#5aa6e0"]},"legend":null}},
    "layer":[{"mark":{"type":"line","strokeWidth":1.1}},
     {"transform":[{"filter":{"field":"m","oneOf":["1","2","3","4","5"]}}],"mark":{"type":"point","shape":"circle","filled":true,"size":18,"opacity":1}},
     {"transform":[{"filter":{"field":"m","oneOf":["6","7","8","9","10"]}}],"mark":{"type":"point","shape":"square","filled":true,"size":18,"opacity":1}}]},
   {"width":101,"height":81,"title":{"text":"B220⁺ B lymphoid","offset":4},"data":{"name":"lineA"},"transform":[{"filter":"datum.p=='b'"}],
    "encoding":{"x":{"field":"w","type":"quantitative","scale":{"domain":[0.8,16.7],"nice":false,"zero":false},"axis":{"values":[2,4,6,8,10,12,14,16],"labelOverlap":false,"labelFlush":false,"title":null}},
     "y":{"field":"v","type":"quantitative","scale":{"domain":[0,60],"nice":false},"axis":{"values":[0,10,20,30,40,50,60],"title":null}},
     "color":{"field":"m","type":"nominal","scale":{"domain":["1","2","3","4","5","6","7","8","9","10"],"range":["#2f2f2f","#e8534e","#2f5ea9","#1c9a6c","#62b2e2","#3b3b3b","#ef6a5f","#6878c2","#22a06f","#5aa6e0"]},"legend":null}},
    "layer":[{"mark":{"type":"line","strokeWidth":1.1}},
     {"transform":[{"filter":{"field":"m","oneOf":["1","2","3","4","5"]}}],"mark":{"type":"point","shape":"circle","filled":true,"size":18,"opacity":1}},
     {"transform":[{"filter":{"field":"m","oneOf":["6","7","8","9","10"]}}],"mark":{"type":"point","shape":"square","filled":true,"size":18,"opacity":1}}]},
   {"width":101,"height":81,"title":{"text":"CD3⁺ T lymphoid","offset":4},"data":{"name":"lineA"},"transform":[{"filter":"datum.p=='t'"}],
    "encoding":{"x":{"field":"w","type":"quantitative","scale":{"domain":[0.8,16.7],"nice":false,"zero":false},"axis":{"values":[2,4,6,8,10,12,14,16],"labelOverlap":false,"labelFlush":false,"title":null}},
     "y":{"field":"v","type":"quantitative","scale":{"domain":[0,60],"nice":false},"axis":{"values":[0,10,20,30,40,50,60],"title":null}},
     "color":{"field":"m","type":"nominal","scale":{"domain":["1","2","3","4","5","6","7","8","9","10"],"range":["#2f2f2f","#e8534e","#2f5ea9","#1c9a6c","#62b2e2","#3b3b3b","#ef6a5f","#6878c2","#22a06f","#5aa6e0"]},
      "legend":{"orient":"none","legendX":108,"legendY":-17,"title":null,"padding":0,"symbolType":"M-1,0H1M-0.22,0A0.22,0.22,0,1,0,0.22,0A0.22,0.22,0,1,0,-0.22,0Z","symbolSize":324,"symbolStrokeWidth":1.2,"labelFontSize":12,"labelOffset":3,"clipHeight":12.6,"rowPadding":0,
       "labelColor":{"expr":"['#333333','#e2574c','#2468b0','#1c9a6b','#4fb0e2','#333333','#ee5f55','#5468b8','#1d9a6b','#4da5df'][indexof(['1','2','3','4','5','6','7','8','9','10'],datum.value)]"}}}},
    "layer":[{"mark":{"type":"line","strokeWidth":1.1}},
     {"transform":[{"filter":{"field":"m","oneOf":["1","2","3","4","5"]}}],"mark":{"type":"point","shape":"circle","filled":true,"size":18,"opacity":1}},
     {"transform":[{"filter":{"field":"m","oneOf":["6","7","8","9","10"]}}],"mark":{"type":"point","shape":"square","filled":true,"size":18,"opacity":1}}]}
  ]},
 {"bounds":"flush","spacing":0,
  "title":{"text":"B","anchor":"start","font":"Liberation Sans Narrow, Arial Narrow, DejaVu Sans Condensed, sans-serif","fontWeight":"bold","fontSize":16,"offset":0,"dx":-19},
  "data":{"name":"tbl"},
  "hconcat":[
   {"width":126,"height":67,"transform":[{"filter":"datum.tb=='B' && datum.g=='g1'"}],
    "encoding":{"y":{"field":"s","type":"ordinal","scale":{"type":"point","domain":["t","h1","u","h2","r","d","b","z"],"padding":0},"axis":null}},
    "layer":[
     {"transform":[{"filter":"datum.k=='rule'"}],"mark":{"type":"rule","strokeWidth":1.6,"color":"#111"}},
     {"transform":[{"filter":"datum.k=='hr'"}],"mark":{"type":"rule","strokeWidth":1.8,"color":"#111","yOffset":-3}},
     {"transform":[{"filter":"datum.k=='bh'"}],"mark":{"type":"text","style":"tb"},"encoding":{"x":{"field":"c","type":"nominal","scale":{"domain":["frac","dose","mice"],"paddingInner":0,"paddingOuter":0},"axis":null},"text":{"field":"t"}}},
     {"transform":[{"filter":"datum.k=='v'"}],"mark":{"type":"text","style":"tv"},"encoding":{"x":{"field":"c","type":"nominal","scale":{"domain":["frac","dose","mice"],"paddingInner":0,"paddingOuter":0},"axis":null},"text":{"field":"t"}}}]},
   {"width":138,"height":67,"transform":[{"filter":"datum.tb=='B' && datum.g=='g2'"}],
    "encoding":{"y":{"field":"s","type":"ordinal","scale":{"type":"point","domain":["t","h1","u","h2","r","d","b","z"],"padding":0},"axis":null}},
    "layer":[
     {"transform":[{"filter":"datum.k=='rule'"}],"mark":{"type":"rule","strokeWidth":1.6,"color":"#111"}},
     {"transform":[{"filter":"datum.k=='hr'"}],"mark":{"type":"rule","strokeWidth":1.8,"color":"#111","yOffset":-3}},
     {"transform":[{"filter":"datum.k=='ul'"}],"mark":{"type":"rule","strokeWidth":1.4,"color":"#111","xOffset":-8,"x2Offset":2}},
     {"transform":[{"filter":"datum.k=='gh'"}],"mark":{"type":"text","style":"tg"},"encoding":{"text":{"field":"t"}}},
     {"transform":[{"filter":"datum.k=='bh'"}],"mark":{"type":"text","style":"tb"},"encoding":{"x":{"field":"c","type":"nominal","scale":{"domain":["c1","c2"],"paddingInner":0,"paddingOuter":0},"axis":null},"text":{"field":"t"}}},
     {"transform":[{"filter":"datum.k=='v'"}],"mark":{"type":"text","style":"tv"},"encoding":{"x":{"field":"c","type":"nominal","scale":{"domain":["c1","c2"],"paddingInner":0,"paddingOuter":0},"axis":null},"text":{"field":"t"}}}]},
   {"width":391,"height":67,"transform":[{"filter":"datum.tb=='B' && datum.g=='g3'"}],
    "encoding":{"y":{"field":"s","type":"ordinal","scale":{"type":"point","domain":["t","h1","u","h2","r","d","b","z"],"padding":0},"axis":null}},
    "layer":[
     {"transform":[{"filter":"datum.k=='rule'"}],"mark":{"type":"rule","strokeWidth":1.6,"color":"#111"}},
     {"transform":[{"filter":"datum.k=='hr'"}],"mark":{"type":"rule","strokeWidth":1.8,"color":"#111","yOffset":-3}},
     {"transform":[{"filter":"datum.k=='ul'"}],"mark":{"type":"rule","strokeWidth":1.4,"color":"#111","xOffset":-10,"x2Offset":6}},
     {"transform":[{"filter":"datum.k=='gh'"}],"mark":{"type":"text","style":"tg"},"encoding":{"text":{"field":"t"}}},
     {"transform":[{"filter":"datum.k=='bh'"}],"mark":{"type":"text","style":"tb"},"encoding":{"x":{"field":"c","type":"nominal","scale":{"domain":["c1","c2","c3","c4","c5"],"paddingInner":0,"paddingOuter":0},"axis":null},"text":{"field":"t"}}},
     {"transform":[{"filter":"datum.k=='v'"}],"mark":{"type":"text","style":"tv"},"encoding":{"x":{"field":"c","type":"nominal","scale":{"domain":["c1","c2","c3","c4","c5"],"paddingInner":0,"paddingOuter":0},"axis":null},"text":{"field":"t"}}}]},
   {"width":90,"height":67,"transform":[{"filter":"datum.tb=='B' && datum.g=='g4'"}],
    "encoding":{"y":{"field":"s","type":"ordinal","scale":{"type":"point","domain":["t","h1","u","h2","r","d","b","z"],"padding":0},"axis":null}},
    "layer":[
     {"transform":[{"filter":"datum.k=='rule'"}],"mark":{"type":"rule","strokeWidth":1.6,"color":"#111"}},
     {"transform":[{"filter":"datum.k=='hr'"}],"mark":{"type":"rule","strokeWidth":1.8,"color":"#111","yOffset":-3}},
     {"transform":[{"filter":"datum.k=='bh'"}],"mark":{"type":"text","style":"tb"},"encoding":{"text":{"field":"t"}}},
     {"transform":[{"filter":"datum.k=='v'"}],"mark":{"type":"text","style":"tv"},"encoding":{"text":{"field":"t"}}}]}
  ]},
 {"bounds":"flush","spacing":21,
  "title":{"text":"C  MPP-1 (CD150⁻CD48⁻/ˡᵒʷCD229⁻/ˡᵒʷCD244⁻LSK) primary transplantation (25 cells)","anchor":"start","font":"Liberation Sans Narrow, Arial Narrow, DejaVu Sans Condensed, sans-serif","fontSize":13,"fontWeight":"bold","offset":24},
  "resolve":{"scale":{"color":"independent"}},
  "hconcat":[
   {"width":101,"height":80,"title":{"text":"CD45⁺ total WBCs","offset":5},"data":{"name":"lineC"},"transform":[{"filter":"datum.p=='wbc'"}],
    "encoding":{"x":{"field":"w","type":"quantitative","scale":{"domain":[0.8,16.7],"nice":false,"zero":false},"axis":{"values":[2,4,6,8,10,12,14,16],"labelOverlap":false,"labelFlush":false,"title":"weeks post-transplantation","titleAnchor":"start","titleAlign":"left","titleFontSize":13.5,"titlePadding":-1}},
     "y":{"field":"v","type":"quantitative","scale":{"domain":[0,100],"nice":false},"axis":{"values":[0,20,40,60,80,100],"title":"% donor cells","titlePadding":0}},
     "color":{"field":"m","type":"nominal","scale":{"domain":["1","2","3","4","5"],"range":["#2f2f2f","#e8474a","#3a56a6","#1f9a6a","#6ea3da"]},"legend":null}},
    "layer":[{"mark":{"type":"line","strokeWidth":1.3}},{"mark":{"type":"point","shape":"circle","filled":true,"size":26,"opacity":1}}]},
   {"width":101,"height":80,"title":{"text":"Mac-1⁺ myeloid","offset":5},"data":{"name":"lineC"},"transform":[{"filter":"datum.p=='mac'"}],
    "encoding":{"x":{"field":"w","type":"quantitative","scale":{"domain":[0.8,16.7],"nice":false,"zero":false},"axis":{"values":[2,4,6,8,10,12,14,16],"labelOverlap":false,"labelFlush":false,"title":null}},
     "y":{"field":"v","type":"quantitative","scale":{"domain":[0,100],"nice":false},"axis":{"values":[0,20,40,60,80,100],"title":null}},
     "color":{"field":"m","type":"nominal","scale":{"domain":["1","2","3","4","5"],"range":["#2f2f2f","#e8474a","#3a56a6","#1f9a6a","#6ea3da"]},"legend":null}},
    "layer":[{"mark":{"type":"line","strokeWidth":1.3}},{"mark":{"type":"point","shape":"circle","filled":true,"size":26,"opacity":1}}]},
   {"width":101,"height":80,"title":{"text":"CD41⁺ platelet","offset":5},"data":{"name":"lineC"},"transform":[{"filter":"datum.p=='plt'"}],
    "encoding":{"x":{"field":"w","type":"quantitative","scale":{"domain":[0.8,16.7],"nice":false,"zero":false},"axis":{"values":[2,4,6,8,10,12,14,16],"labelOverlap":false,"labelFlush":false,"title":null}},
     "y":{"field":"v","type":"quantitative","scale":{"domain":[0,100],"nice":false},"axis":{"values":[0,20,40,60,80,100],"title":null}},
     "color":{"field":"m","type":"nominal","scale":{"domain":["1","2","3","4","5"],"range":["#2f2f2f","#e8474a","#3a56a6","#1f9a6a","#6ea3da"]},"legend":null}},
    "layer":[{"mark":{"type":"line","strokeWidth":1.3}},{"mark":{"type":"point","shape":"circle","filled":true,"size":26,"opacity":1}}]},
   {"width":101,"height":80,"title":{"text":"Ter119⁺ erythroid","offset":5},"data":{"name":"lineC"},"transform":[{"filter":"datum.p=='ery'"}],
    "encoding":{"x":{"field":"w","type":"quantitative","scale":{"domain":[0.8,16.7],"nice":false,"zero":false},"axis":{"values":[2,4,6,8,10,12,14,16],"labelOverlap":false,"labelFlush":false,"title":null}},
     "y":{"field":"v","type":"quantitative","scale":{"domain":[0,100],"nice":false},"axis":{"values":[0,20,40,60,80,100],"title":null}},
     "color":{"field":"m","type":"nominal","scale":{"domain":["1","2","3","4","5"],"range":["#2f2f2f","#e8474a","#3a56a6","#1f9a6a","#6ea3da"]},"legend":null}},
    "layer":[{"mark":{"type":"line","strokeWidth":1.3}},{"mark":{"type":"point","shape":"circle","filled":true,"size":26,"opacity":1}}]},
   {"width":101,"height":80,"title":{"text":"B220⁺ B lymphoid","offset":5},"data":{"name":"lineC"},"transform":[{"filter":"datum.p=='b'"}],
    "encoding":{"x":{"field":"w","type":"quantitative","scale":{"domain":[0.8,16.7],"nice":false,"zero":false},"axis":{"values":[2,4,6,8,10,12,14,16],"labelOverlap":false,"labelFlush":false,"title":null}},
     "y":{"field":"v","type":"quantitative","scale":{"domain":[0,100],"nice":false},"axis":{"values":[0,20,40,60,80,100],"title":null}},
     "color":{"field":"m","type":"nominal","scale":{"domain":["1","2","3","4","5"],"range":["#2f2f2f","#e8474a","#3a56a6","#1f9a6a","#6ea3da"]},"legend":null}},
    "layer":[{"mark":{"type":"line","strokeWidth":1.3}},{"mark":{"type":"point","shape":"circle","filled":true,"size":26,"opacity":1}}]},
   {"width":101,"height":80,"title":{"text":"CD3⁺ T lymphoid","offset":5},"data":{"name":"lineC"},"transform":[{"filter":"datum.p=='t'"}],
    "encoding":{"x":{"field":"w","type":"quantitative","scale":{"domain":[0.8,16.7],"nice":false,"zero":false},"axis":{"values":[2,4,6,8,10,12,14,16],"labelOverlap":false,"labelFlush":false,"title":null}},
     "y":{"field":"v","type":"quantitative","scale":{"domain":[0,100],"nice":false},"axis":{"values":[0,20,40,60,80,100],"title":null}},
     "color":{"field":"m","type":"nominal","scale":{"domain":["1","2","3","4","5"],"range":["#2f2f2f","#e8474a","#3a56a6","#1f9a6a","#6ea3da"]},
      "legend":{"orient":"none","legendX":108,"legendY":-6,"title":null,"padding":0,"symbolType":"M-1,0H1M-0.2,0A0.2,0.2,0,1,0,0.2,0A0.2,0.2,0,1,0,-0.2,0Z","symbolSize":441,"symbolStrokeWidth":1.3,"labelFontSize":15,"labelOffset":3,"clipHeight":15.8,"rowPadding":0,
       "labelColor":{"expr":"['#333333','#e8595a','#2263b0','#1c9a6b','#3fb0e8'][indexof(['1','2','3','4','5'],datum.value)]"}}}},
    "layer":[{"mark":{"type":"line","strokeWidth":1.3}},{"mark":{"type":"point","shape":"circle","filled":true,"size":26,"opacity":1}}]}
  ]},
 {"bounds":"flush","spacing":0,
  "title":{"text":"D","anchor":"start","font":"Liberation Sans Narrow, Arial Narrow, DejaVu Sans Condensed, sans-serif","fontWeight":"bold","fontSize":16,"offset":0,"dx":-19},
  "data":{"name":"tbl"},
  "hconcat":[
   {"width":126,"height":76.6,"transform":[{"filter":"datum.tb=='D' && datum.g=='g1'"}],
    "encoding":{"y":{"field":"s","type":"ordinal","scale":{"type":"point","domain":["t","h1","u","h2","r","d","b","z","z2"],"padding":0},"axis":null}},
    "layer":[
     {"transform":[{"filter":"datum.k=='rule'"}],"mark":{"type":"rule","strokeWidth":1.6,"color":"#111"}},
     {"transform":[{"filter":"datum.k=='hr'"}],"mark":{"type":"rule","strokeWidth":1.8,"color":"#111","yOffset":-3}},
     {"transform":[{"filter":"datum.k=='bh'"}],"mark":{"type":"text","style":"tb"},"encoding":{"x":{"field":"c","type":"nominal","scale":{"domain":["frac","dose","mice"],"paddingInner":0,"paddingOuter":0},"axis":null},"text":{"field":"t"}}},
     {"transform":[{"filter":"datum.k=='v'"}],"mark":{"type":"text","style":"tv"},"encoding":{"x":{"field":"c","type":"nominal","scale":{"domain":["frac","dose","mice"],"paddingInner":0,"paddingOuter":0},"axis":null},"text":{"field":"t"}}}]},
   {"width":138,"height":76.6,"transform":[{"filter":"datum.tb=='D' && datum.g=='g2'"}],
    "encoding":{"y":{"field":"s","type":"ordinal","scale":{"type":"point","domain":["t","h1","u","h2","r","d","b","z","z2"],"padding":0},"axis":null}},
    "layer":[
     {"transform":[{"filter":"datum.k=='rule'"}],"mark":{"type":"rule","strokeWidth":1.6,"color":"#111"}},
     {"transform":[{"filter":"datum.k=='hr'"}],"mark":{"type":"rule","strokeWidth":1.8,"color":"#111","yOffset":-3}},
     {"transform":[{"filter":"datum.k=='ul'"}],"mark":{"type":"rule","strokeWidth":1.4,"color":"#111","xOffset":-8,"x2Offset":2}},
     {"transform":[{"filter":"datum.k=='gh'"}],"mark":{"type":"text","style":"tg"},"encoding":{"text":{"field":"t"}}},
     {"transform":[{"filter":"datum.k=='bh'"}],"mark":{"type":"text","style":"tb"},"encoding":{"x":{"field":"c","type":"nominal","scale":{"domain":["c1","c2"],"paddingInner":0,"paddingOuter":0},"axis":null},"text":{"field":"t"}}},
     {"transform":[{"filter":"datum.k=='v'"}],"mark":{"type":"text","style":"tv"},"encoding":{"x":{"field":"c","type":"nominal","scale":{"domain":["c1","c2"],"paddingInner":0,"paddingOuter":0},"axis":null},"text":{"field":"t"}}}]},
   {"width":391,"height":76.6,"transform":[{"filter":"datum.tb=='D' && datum.g=='g3'"}],
    "encoding":{"y":{"field":"s","type":"ordinal","scale":{"type":"point","domain":["t","h1","u","h2","r","d","b","z","z2"],"padding":0},"axis":null}},
    "layer":[
     {"transform":[{"filter":"datum.k=='rule'"}],"mark":{"type":"rule","strokeWidth":1.6,"color":"#111"}},
     {"transform":[{"filter":"datum.k=='hr'"}],"mark":{"type":"rule","strokeWidth":1.8,"color":"#111","yOffset":-3}},
     {"transform":[{"filter":"datum.k=='ul'"}],"mark":{"type":"rule","strokeWidth":1.4,"color":"#111","xOffset":-10,"x2Offset":6}},
     {"transform":[{"filter":"datum.k=='gh'"}],"mark":{"type":"text","style":"tg"},"encoding":{"text":{"field":"t"}}},
     {"transform":[{"filter":"datum.k=='bh'"}],"mark":{"type":"text","style":"tb"},"encoding":{"x":{"field":"c","type":"nominal","scale":{"domain":["c1","c2","c3","c4","c5"],"paddingInner":0,"paddingOuter":0},"axis":null},"text":{"field":"t"}}},
     {"transform":[{"filter":"datum.k=='v'"}],"mark":{"type":"text","style":"tv"},"encoding":{"x":{"field":"c","type":"nominal","scale":{"domain":["c1","c2","c3","c4","c5"],"paddingInner":0,"paddingOuter":0},"axis":null},"text":{"field":"t"}}}]},
   {"width":90,"height":76.6,"transform":[{"filter":"datum.tb=='D' && datum.g=='g4'"}],
    "encoding":{"y":{"field":"s","type":"ordinal","scale":{"type":"point","domain":["t","h1","u","h2","r","d","b","z","z2"],"padding":0},"axis":null}},
    "layer":[
     {"transform":[{"filter":"datum.k=='rule'"}],"mark":{"type":"rule","strokeWidth":1.6,"color":"#111"}},
     {"transform":[{"filter":"datum.k=='hr'"}],"mark":{"type":"rule","strokeWidth":1.8,"color":"#111","yOffset":-3}},
     {"transform":[{"filter":"datum.k=='bh'"}],"mark":{"type":"text","style":"tb"},"encoding":{"text":{"field":"t"}}},
     {"transform":[{"filter":"datum.k=='v'"}],"mark":{"type":"text","style":"tv"},"encoding":{"text":{"field":"t"}}}]}
  ]},
 {"spacing":12,"vconcat":[
 {"bounds":"flush","spacing":26,
  "title":{"text":"E","anchor":"start","font":"Liberation Sans Narrow, Arial Narrow, DejaVu Sans Condensed, sans-serif","fontWeight":"bold","fontSize":16,"offset":-12},
  "data":{"name":"bars"},
  "hconcat":[
   {"width":122,"height":54,"title":{"text":"MPP-1 #1","font":"Liberation Sans Narrow, Arial Narrow, DejaVu Sans Condensed, sans-serif","fontWeight":"bold","fontSize":11.5,"offset":16},
    "transform":[{"filter":"datum.mo=='1'"}],
    "mark":{"type":"bar","fill":"#3d4343","stroke":"#1a1d1d","strokeWidth":0.8},
    "encoding":{"x":{"field":"c","type":"nominal","scale":{"domain":["HSC-1","HSC-2","MPP-1","MPP-2","MPP-3","HPC-1","HPC-2","CMP","GMP","MEP","CLP","Total BM"],"paddingInner":0.28,"paddingOuter":0.3},"axis":{"title":null,"labelAngle":-45,"labelFont":"Liberation Sans Narrow, Arial Narrow, DejaVu Sans Condensed, sans-serif","labelFontSize":10,"tickSize":3,"labelPadding":2}},
     "y":{"field":"v","type":"quantitative","scale":{"domain":[0,100],"nice":false},"axis":{"values":[0,20,40,60,80,100],"title":"% donor cells","titleFontSize":11,"titlePadding":4,"titleAnchor":"end","labelFont":"Liberation Sans Narrow, Arial Narrow, DejaVu Sans Condensed, sans-serif","labelFontSize":11}}}},
   {"width":122,"height":54,"title":{"text":"MPP-1 #2","font":"Liberation Sans Narrow, Arial Narrow, DejaVu Sans Condensed, sans-serif","fontWeight":"bold","fontSize":11.5,"offset":16},
    "transform":[{"filter":"datum.mo=='2'"}],
    "mark":{"type":"bar","fill":"#d69aa2","stroke":"#a0404c","strokeWidth":0.8},
    "encoding":{"x":{"field":"c","type":"nominal","scale":{"domain":["HSC-1","HSC-2","MPP-1","MPP-2","MPP-3","HPC-1","HPC-2","CMP","GMP","MEP","CLP","Total BM"],"paddingInner":0.28,"paddingOuter":0.3},"axis":{"title":null,"labelAngle":-45,"labelFont":"Liberation Sans Narrow, Arial Narrow, DejaVu Sans Condensed, sans-serif","labelFontSize":10,"tickSize":3,"labelPadding":2}},
     "y":{"field":"v","type":"quantitative","scale":{"domain":[0,100],"nice":false},"axis":{"values":[0,20,40,60,80,100],"title":null,"labelFont":"Liberation Sans Narrow, Arial Narrow, DejaVu Sans Condensed, sans-serif","labelFontSize":11}}}},
   {"width":122,"height":54,"title":{"text":"MPP-1 #3","font":"Liberation Sans Narrow, Arial Narrow, DejaVu Sans Condensed, sans-serif","fontWeight":"bold","fontSize":11.5,"offset":16},
    "transform":[{"filter":"datum.mo=='3'"}],
    "mark":{"type":"bar","fill":"#5d6199","stroke":"#2f3366","strokeWidth":0.8},
    "encoding":{"x":{"field":"c","type":"nominal","scale":{"domain":["HSC-1","HSC-2","MPP-1","MPP-2","MPP-3","HPC-1","HPC-2","CMP","GMP","MEP","CLP","Total BM"],"paddingInner":0.28,"paddingOuter":0.3},"axis":{"title":null,"labelAngle":-45,"labelFont":"Liberation Sans Narrow, Arial Narrow, DejaVu Sans Condensed, sans-serif","labelFontSize":10,"tickSize":3,"labelPadding":2}},
     "y":{"field":"v","type":"quantitative","scale":{"domain":[0,100],"nice":false},"axis":{"values":[0,20,40,60,80,100],"title":null,"labelFont":"Liberation Sans Narrow, Arial Narrow, DejaVu Sans Condensed, sans-serif","labelFontSize":11}}}},
   {"width":122,"height":54,"title":{"text":"MPP-1 #4","font":"Liberation Sans Narrow, Arial Narrow, DejaVu Sans Condensed, sans-serif","fontWeight":"bold","fontSize":11.5,"offset":16},
    "transform":[{"filter":"datum.mo=='4'"}],
    "mark":{"type":"bar","fill":"#1e9b72","stroke":"#0e5c42","strokeWidth":0.8},
    "encoding":{"x":{"field":"c","type":"nominal","scale":{"domain":["HSC-1","HSC-2","MPP-1","MPP-2","MPP-3","HPC-1","HPC-2","CMP","GMP","MEP","CLP","Total BM"],"paddingInner":0.28,"paddingOuter":0.3},"axis":{"title":null,"labelAngle":-45,"labelFont":"Liberation Sans Narrow, Arial Narrow, DejaVu Sans Condensed, sans-serif","labelFontSize":10,"tickSize":3,"labelPadding":2}},
     "y":{"field":"v","type":"quantitative","scale":{"domain":[0,100],"nice":false},"axis":{"values":[0,20,40,60,80,100],"title":null,"labelFont":"Liberation Sans Narrow, Arial Narrow, DejaVu Sans Condensed, sans-serif","labelFontSize":11}}}},
   {"width":122,"height":54,"title":{"text":"MPP-1 #5","font":"Liberation Sans Narrow, Arial Narrow, DejaVu Sans Condensed, sans-serif","fontWeight":"bold","fontSize":11.5,"offset":16},
    "transform":[{"filter":"datum.mo=='5'"}],
    "mark":{"type":"bar","fill":"#3da3dd","stroke":"#1d5f8f","strokeWidth":0.8},
    "encoding":{"x":{"field":"c","type":"nominal","scale":{"domain":["HSC-1","HSC-2","MPP-1","MPP-2","MPP-3","HPC-1","HPC-2","CMP","GMP","MEP","CLP","Total BM"],"paddingInner":0.28,"paddingOuter":0.3},"axis":{"title":null,"labelAngle":-45,"labelFont":"Liberation Sans Narrow, Arial Narrow, DejaVu Sans Condensed, sans-serif","labelFontSize":10,"tickSize":3,"labelPadding":2}},
     "y":{"field":"v","type":"quantitative","scale":{"domain":[0,100],"nice":false},"axis":{"values":[0,20,40,60,80,100],"title":null,"labelFont":"Liberation Sans Narrow, Arial Narrow, DejaVu Sans Condensed, sans-serif","labelFontSize":11}}}}
  ]},
 {"bounds":"flush","spacing":0,
  "title":{"text":"F","anchor":"start","font":"Liberation Sans Narrow, Arial Narrow, DejaVu Sans Condensed, sans-serif","fontWeight":"bold","fontSize":16,"offset":0,"dx":-19},
  "data":{"name":"tbl"},
  "hconcat":[
   {"width":126,"height":73.4,"transform":[{"filter":"datum.tb=='F' && datum.g=='v1'"}],
    "encoding":{"y":{"field":"s","type":"ordinal","scale":{"type":"point","domain":["t","r1","u1","r2","u2","r3","hr","x","d"],"padding":0},"axis":null}},
    "layer":[
     {"transform":[{"filter":"datum.k=='rule'"}],"mark":{"type":"rule","strokeWidth":1.6,"color":"#111"}},
     {"transform":[{"filter":"datum.k=='bh'"}],"mark":{"type":"text","style":"fb"},"encoding":{"x":{"field":"c","type":"nominal","scale":{"domain":["frac","prim"],"paddingInner":0,"paddingOuter":0},"axis":null},"text":{"field":"t"}}},
     {"transform":[{"filter":"datum.k=='v'"}],"mark":{"type":"text","style":"fv"},"encoding":{"x":{"field":"c","type":"nominal","scale":{"domain":["frac","prim"],"paddingInner":0,"paddingOuter":0},"axis":null},"text":{"field":"t"}}}]},
   {"width":195,"height":73.4,"transform":[{"filter":"datum.tb=='F' && datum.g=='v2'"}],
    "encoding":{"y":{"field":"s","type":"ordinal","scale":{"type":"point","domain":["t","r1","u1","r2","u2","r3","hr","x","d"],"padding":0},"axis":null}},
    "layer":[
     {"transform":[{"filter":"datum.k=='rule'"}],"mark":{"type":"rule","strokeWidth":1.6,"color":"#111"}},
     {"transform":[{"filter":"datum.k=='bh'"}],"mark":{"type":"text","style":"fb"},"encoding":{"text":{"field":"t"}}},
     {"transform":[{"filter":"datum.k=='v'"}],"mark":{"type":"text","style":"fv"},"encoding":{"text":{"field":"t"}}}]},
   {"width":90,"height":73.4,"transform":[{"filter":"datum.tb=='F' && datum.g=='v3'"}],
    "encoding":{"y":{"field":"s","type":"ordinal","scale":{"type":"point","domain":["t","r1","u1","r2","u2","r3","hr","x","d"],"padding":0},"axis":null}},
    "layer":[
     {"transform":[{"filter":"datum.k=='rule'"}],"mark":{"type":"rule","strokeWidth":1.6,"color":"#111"}},
     {"transform":[{"filter":"datum.k=='bh'"}],"mark":{"type":"text","style":"fb"},"encoding":{"text":{"field":"t"}}},
     {"transform":[{"filter":"datum.k=='v'"}],"mark":{"type":"text","style":"fv"},"encoding":{"text":{"field":"t"}}}]},
   {"width":92,"height":73.4,"transform":[{"filter":"datum.tb=='F' && datum.g=='v4'"}],
    "encoding":{"y":{"field":"s","type":"ordinal","scale":{"type":"point","domain":["t","r1","u1","r2","u2","r3","hr","x","d"],"padding":0},"axis":null}},
    "layer":[
     {"transform":[{"filter":"datum.k=='rule'"}],"mark":{"type":"rule","strokeWidth":1.6,"color":"#111"}},
     {"transform":[{"filter":"datum.k=='ulL'"}],"mark":{"type":"rule","strokeWidth":1.4,"color":"#111","x2Offset":10}},
     {"transform":[{"filter":"datum.k=='ul'"}],"mark":{"type":"rule","strokeWidth":1.4,"color":"#111","xOffset":-5,"x2Offset":10}},
     {"transform":[{"filter":"datum.k=='bh'"}],"mark":{"type":"text","style":"fb"},"encoding":{"text":{"field":"t"}}},
     {"transform":[{"filter":"datum.k=='v'"}],"mark":{"type":"text","style":"fv"},"encoding":{"text":{"field":"t"}}}]},
   {"width":242,"height":73.4,"transform":[{"filter":"datum.tb=='F' && datum.g=='v5'"}],
    "encoding":{"y":{"field":"s","type":"ordinal","scale":{"type":"point","domain":["t","r1","u1","r2","u2","r3","hr","x","d"],"padding":0},"axis":null}},
    "layer":[
     {"transform":[{"filter":"datum.k=='rule'"}],"mark":{"type":"rule","strokeWidth":1.6,"color":"#111"}},
     {"transform":[{"filter":"datum.k=='ulR'"}],"mark":{"type":"rule","strokeWidth":1.4,"color":"#111"}},
     {"transform":[{"filter":"datum.k=='ul'"}],"mark":{"type":"rule","strokeWidth":1.4,"color":"#111","xOffset":0,"x2Offset":5}},
     {"transform":[{"filter":"datum.k=='gh2'"}],"mark":{"type":"text","style":"fb","fontSize":15,"dx":-42},"encoding":{"text":{"field":"t"}}},
     {"transform":[{"filter":"datum.k=='gh'"}],"mark":{"type":"text","style":"fb","fontSize":15,"dx":10},"encoding":{"text":{"field":"t"}}},
     {"transform":[{"filter":"datum.k=='bh'"}],"mark":{"type":"text","style":"fb"},"encoding":{"x":{"field":"c","type":"nominal","scale":{"domain":["c1","c2","c3","c4"],"paddingInner":0,"paddingOuter":0},"axis":null},"text":{"field":"t"}}},
     {"transform":[{"filter":"datum.k=='v'"}],"mark":{"type":"text","style":"fv"},"encoding":{"x":{"field":"c","type":"nominal","scale":{"domain":["c1","c2","c3","c4"],"paddingInner":0,"paddingOuter":0},"axis":null},"text":{"field":"t"}}}]}
  ]}
 ]}
]
}
